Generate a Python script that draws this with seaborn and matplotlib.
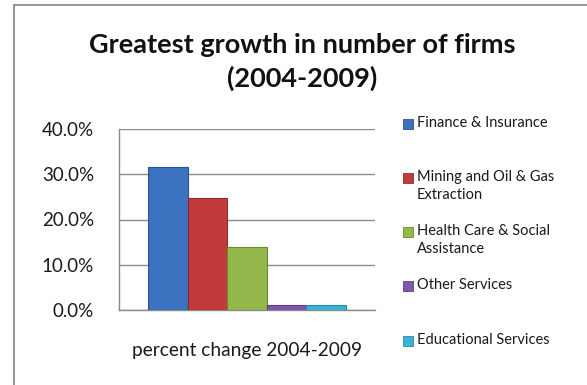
import matplotlib
matplotlib.use("Agg")
import matplotlib.pyplot as plt
import matplotlib.patches as mpatches
from matplotlib.ticker import FuncFormatter, MultipleLocator
import seaborn as sns
import pandas as pd

# Growth in number of firms, 2004-2009
group = ["percent change 2004-2009"]
industries = [
    "Finance & Insurance",
    "Mining and Oil & Gas Extraction",
    "Health Care & Social Assistance",
    "Other Services",
    "Educational Services",
]
legend_labels = [
    "Finance & Insurance",
    "Mining and Oil & Gas\nExtraction",
    "Health Care & Social\nAssistance",
    "Other Services",
    "Educational Services",
]
pct_change = [31.7, 24.7, 13.9, 1.1, 1.0]
colors = ["#3b73c0", "#c23b3c", "#93b74a", "#7d59a8", "#39b3d6"]
edge_colors = ["#2a5590", "#8e2a2b", "#6b8a32", "#5a3e7d", "#2a86a2"]

df = pd.DataFrame({"group": group * len(industries),
                   "industry": industries,
                   "pct": pct_change})

sns.set_theme(style="white")
plt.rcParams["font.family"] = ["Lato", "DejaVu Sans"]

W, H = 587, 385
fig = plt.figure(figsize=(W / 100, H / 100), dpi=100)
fig.patch.set_facecolor("white")

ax = fig.add_axes([119 / W, (H - 310) / H, (375 - 119) / W, (310 - 129) / H])
sns.barplot(data=df, x="group", y="pct", hue="industry", hue_order=industries,
            palette=colors, width=0.77, gap=0, dodge=True, legend=False,
            saturation=1, ax=ax, zorder=3)

for patch, ec in zip(ax.patches, edge_colors):
    patch.set_edgecolor(ec)
    patch.set_linewidth(0.8)

ax.set_xlim(-0.5, 0.5)
ax.set_ylim(0, 40)
ax.yaxis.set_major_locator(MultipleLocator(10))
ax.yaxis.set_major_formatter(FuncFormatter(lambda v, _: f"{v:.1f}%"))
ax.set_xlabel("")
ax.set_ylabel("")
ax.grid(axis="y", color="#8a8a8a", linewidth=1.0, zorder=0)
ax.set_axisbelow(True)
for side in ("top", "right"):
    ax.spines[side].set_visible(False)
for side in ("left", "bottom"):
    ax.spines[side].set_color("#8a8a8a")
    ax.spines[side].set_linewidth(1.0)
ax.tick_params(axis="y", length=0, pad=18, labelsize=13.5, labelcolor="#1a1a1a")
ax.tick_params(axis="x", length=0, pad=23, labelsize=13.8, labelcolor="#1a1a1a")

fig.text(302 / W, 1 - 33 / H, "Greatest growth in number of firms\n(2004-2009)",
         ha="center", va="top", fontsize=19.5, fontweight="bold",
         linespacing=1.42, color="#111111")

# Legend entries: marker aligned with the first line of each label
row_y = [124, 178, 232, 286, 341]
for lab, col, ec, y in zip(legend_labels, colors, edge_colors, row_y):
    fig.patches.append(mpatches.Rectangle(
        (403 / W, 1 - (y + 5) / H), 10 / W, 10 / H,
        transform=fig.transFigure, facecolor=col, edgecolor=ec, linewidth=0.6))
    fig.text(417 / W, 1 - (y - 8) / H, lab, ha="left", va="top",
             fontsize=10.5, linespacing=1.35, color="#1a1a1a")

# Chart area border
fig.patches.append(mpatches.Rectangle(
    (14 / W, -0.1), 1.2, 1 - 5 / H + 0.1, transform=fig.transFigure,
    fill=False, edgecolor="#8c8c8c", linewidth=1.3))

fig.savefig("out.png", dpi=100)
